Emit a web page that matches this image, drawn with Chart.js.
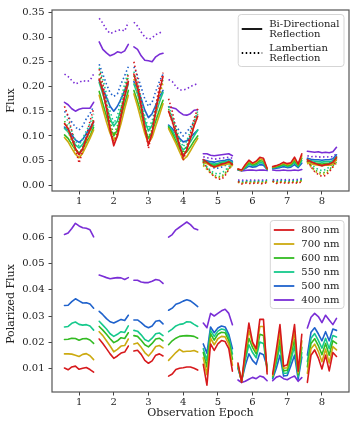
<!DOCTYPE html>
<html>
<head>
<meta charset="utf-8">
<script src="https://cdn.jsdelivr.net/npm/chart.js@4"></script>
<style>
	body { margin: 0; background: #fff; }
	#wrap { position: relative; width: 358px; height: 423px; }
	#wrap canvas { position: absolute; left: 0; }
	#fluxChart { top: 0; }
	#polChart { top: 206px; }
</style>
</head>
<body>
<div id="wrap">
	<canvas id="fluxChart" width="358" height="206"></canvas>
	<canvas id="polChart" width="358" height="217"></canvas>
</div>
<script>
const epochs = [1, 2, 3, 4, 5, 6, 7, 8];
const offsets = [-0.42, -0.315, -0.21, -0.105, 0, 0.105, 0.21, 0.315, 0.42];
const wavelengths = ['800 nm', '700 nm', '600 nm', '550 nm', '500 nm', '400 nm'];
const fluxTicks = [0, 0.05, 0.1, 0.15, 0.2, 0.25, 0.3, 0.35];
const polTicks = [0.01, 0.02, 0.03, 0.04, 0.05, 0.06];
const modelNames = [['Bi-Directional', 'Reflection'], ['Lambertian', 'Reflection']];

// bi-directional reflection (solid), one row per epoch
const bdr800 = [
	[0.125, 0.115, 0.095, 0.075, 0.062, 0.075, 0.095, 0.112, 0.130],
	[0.215, 0.190, 0.155, 0.112, 0.080, 0.100, 0.140, 0.180, 0.210],
	[0.225, 0.198, 0.160, 0.115, 0.082, 0.105, 0.150, 0.190, 0.220],
	[0.150, 0.130, 0.105, 0.080, 0.058, 0.072, 0.095, 0.120, 0.140],
	[0.052, 0.047, 0.041, 0.037, 0.040, 0.043, 0.045, 0.048, 0.043],
	[0.033, 0.031, 0.042, 0.051, 0.045, 0.049, 0.057, 0.055, 0.034],
	[0.038, 0.040, 0.043, 0.047, 0.044, 0.046, 0.057, 0.043, 0.064],
	[0.052, 0.048, 0.045, 0.042, 0.040, 0.042, 0.043, 0.047, 0.057]
];
const bdr700 = [
	[0.097, 0.088, 0.075, 0.063, 0.056, 0.065, 0.080, 0.095, 0.112],
	[0.182, 0.155, 0.128, 0.105, 0.090, 0.100, 0.125, 0.155, 0.182],
	[0.185, 0.160, 0.132, 0.105, 0.085, 0.097, 0.120, 0.142, 0.165],
	[0.115, 0.100, 0.085, 0.068, 0.052, 0.058, 0.070, 0.083, 0.095],
	[0.046, 0.044, 0.040, 0.037, 0.039, 0.041, 0.042, 0.044, 0.040],
	[0.033, 0.030, 0.040, 0.049, 0.044, 0.047, 0.054, 0.052, 0.034],
	[0.037, 0.039, 0.042, 0.045, 0.042, 0.044, 0.054, 0.042, 0.060],
	[0.047, 0.044, 0.042, 0.041, 0.040, 0.041, 0.041, 0.043, 0.052]
];
const bdr600 = [
	[0.102, 0.095, 0.083, 0.072, 0.066, 0.073, 0.088, 0.100, 0.117],
	[0.190, 0.165, 0.140, 0.115, 0.100, 0.112, 0.138, 0.165, 0.192],
	[0.192, 0.170, 0.145, 0.115, 0.095, 0.108, 0.130, 0.152, 0.172],
	[0.118, 0.105, 0.090, 0.075, 0.062, 0.068, 0.078, 0.090, 0.100],
	[0.048, 0.046, 0.042, 0.040, 0.042, 0.044, 0.045, 0.047, 0.043],
	[0.032, 0.030, 0.038, 0.046, 0.042, 0.044, 0.050, 0.049, 0.033],
	[0.036, 0.038, 0.040, 0.043, 0.040, 0.042, 0.050, 0.040, 0.055],
	[0.049, 0.047, 0.045, 0.044, 0.043, 0.044, 0.044, 0.046, 0.055]
];
const bdr550 = [
	[0.115, 0.108, 0.095, 0.082, 0.076, 0.083, 0.097, 0.110, 0.122],
	[0.208, 0.185, 0.160, 0.135, 0.120, 0.130, 0.155, 0.180, 0.205],
	[0.205, 0.185, 0.160, 0.130, 0.110, 0.122, 0.145, 0.168, 0.188],
	[0.120, 0.110, 0.097, 0.082, 0.072, 0.078, 0.088, 0.100, 0.112],
	[0.050, 0.048, 0.045, 0.043, 0.045, 0.047, 0.048, 0.050, 0.046],
	[0.032, 0.030, 0.036, 0.043, 0.040, 0.041, 0.046, 0.045, 0.033],
	[0.035, 0.037, 0.038, 0.041, 0.038, 0.040, 0.046, 0.038, 0.050],
	[0.052, 0.050, 0.049, 0.048, 0.047, 0.048, 0.048, 0.050, 0.058]
];
const bdr500 = [
	[0.118, 0.112, 0.102, 0.092, 0.087, 0.093, 0.105, 0.116, 0.128],
	[0.212, 0.195, 0.178, 0.160, 0.150, 0.160, 0.175, 0.192, 0.210],
	[0.210, 0.195, 0.175, 0.152, 0.137, 0.145, 0.162, 0.178, 0.192],
	[0.122, 0.115, 0.105, 0.095, 0.088, 0.090, 0.097, 0.105, 0.112],
	[0.052, 0.050, 0.048, 0.047, 0.049, 0.050, 0.051, 0.053, 0.049],
	[0.032, 0.030, 0.034, 0.039, 0.037, 0.038, 0.042, 0.041, 0.032],
	[0.034, 0.035, 0.036, 0.038, 0.036, 0.037, 0.042, 0.036, 0.045],
	[0.055, 0.053, 0.052, 0.052, 0.051, 0.052, 0.052, 0.054, 0.062]
];
const bdr400 = [
	[0.168, 0.163, 0.155, 0.150, 0.154, 0.156, 0.156, 0.156, 0.168],
	[0.290, 0.275, 0.268, 0.262, 0.265, 0.270, 0.268, 0.272, 0.285],
	[0.280, 0.275, 0.262, 0.253, 0.252, 0.250, 0.260, 0.265, 0.267],
	[0.159, 0.157, 0.155, 0.148, 0.143, 0.142, 0.145, 0.152, 0.153],
	[0.064, 0.064, 0.061, 0.060, 0.061, 0.062, 0.063, 0.064, 0.060],
	[0.031, 0.029, 0.030, 0.031, 0.031, 0.030, 0.031, 0.031, 0.030],
	[0.031, 0.030, 0.030, 0.031, 0.030, 0.030, 0.031, 0.030, 0.032],
	[0.069, 0.068, 0.067, 0.068, 0.066, 0.067, 0.066, 0.068, 0.077]
];

// lambertian reflection (dotted)
const lam800 = [
	[0.160, 0.140, 0.110, 0.075, 0.045, 0.070, 0.100, 0.130, 0.155],
	[0.235, 0.205, 0.165, 0.120, 0.085, 0.105, 0.150, 0.190, 0.225],
	[0.250, 0.215, 0.170, 0.120, 0.075, 0.110, 0.160, 0.200, 0.228],
	[0.175, 0.150, 0.115, 0.082, 0.050, 0.075, 0.105, 0.135, 0.155],
	[0.048, 0.035, 0.025, 0.018, 0.013, 0.012, 0.020, 0.032, 0.045],
	[0.008, 0.003, 0.005, 0.004, 0.004, 0.005, 0.004, 0.003, 0.006],
	[0.009, 0.004, 0.006, 0.005, 0.005, 0.005, 0.006, 0.004, 0.008],
	[0.050, 0.038, 0.028, 0.022, 0.018, 0.020, 0.027, 0.038, 0.050]
];
const lam700 = [
	[0.125, 0.110, 0.088, 0.068, 0.055, 0.068, 0.088, 0.105, 0.128],
	[0.215, 0.188, 0.155, 0.120, 0.092, 0.110, 0.145, 0.180, 0.212],
	[0.215, 0.188, 0.152, 0.115, 0.087, 0.105, 0.140, 0.178, 0.208],
	[0.150, 0.128, 0.102, 0.078, 0.057, 0.072, 0.095, 0.120, 0.140],
	[0.040, 0.032, 0.025, 0.018, 0.015, 0.016, 0.023, 0.033, 0.040],
	[0.006, 0.004, 0.006, 0.006, 0.005, 0.006, 0.006, 0.005, 0.007],
	[0.007, 0.005, 0.007, 0.006, 0.006, 0.006, 0.007, 0.006, 0.009],
	[0.045, 0.037, 0.029, 0.024, 0.022, 0.024, 0.029, 0.037, 0.045]
];
const lam600 = [
	[0.130, 0.118, 0.095, 0.075, 0.063, 0.078, 0.095, 0.112, 0.135],
	[0.225, 0.198, 0.165, 0.130, 0.102, 0.120, 0.155, 0.190, 0.220],
	[0.222, 0.195, 0.160, 0.122, 0.095, 0.115, 0.150, 0.185, 0.212],
	[0.155, 0.135, 0.110, 0.085, 0.065, 0.080, 0.100, 0.125, 0.145],
	[0.042, 0.035, 0.027, 0.020, 0.018, 0.018, 0.025, 0.035, 0.042],
	[0.007, 0.005, 0.007, 0.007, 0.006, 0.007, 0.007, 0.006, 0.008],
	[0.008, 0.006, 0.008, 0.007, 0.007, 0.007, 0.008, 0.007, 0.010],
	[0.047, 0.040, 0.032, 0.027, 0.025, 0.027, 0.032, 0.040, 0.047]
];
const lam550 = [
	[0.140, 0.130, 0.110, 0.090, 0.080, 0.095, 0.110, 0.125, 0.145],
	[0.238, 0.215, 0.185, 0.150, 0.125, 0.140, 0.175, 0.205, 0.230],
	[0.230, 0.205, 0.175, 0.140, 0.115, 0.130, 0.160, 0.190, 0.215],
	[0.160, 0.140, 0.118, 0.095, 0.078, 0.090, 0.110, 0.130, 0.150],
	[0.045, 0.038, 0.030, 0.025, 0.023, 0.025, 0.030, 0.038, 0.045],
	[0.008, 0.006, 0.008, 0.008, 0.007, 0.008, 0.008, 0.007, 0.009],
	[0.009, 0.007, 0.009, 0.008, 0.008, 0.008, 0.009, 0.008, 0.011],
	[0.050, 0.043, 0.037, 0.032, 0.030, 0.032, 0.037, 0.045, 0.050]
];
const lam500 = [
	[0.150, 0.140, 0.128, 0.118, 0.112, 0.120, 0.135, 0.145, 0.160],
	[0.245, 0.225, 0.205, 0.187, 0.180, 0.185, 0.205, 0.222, 0.240],
	[0.240, 0.222, 0.198, 0.175, 0.160, 0.168, 0.190, 0.210, 0.225],
	[0.150, 0.135, 0.120, 0.110, 0.100, 0.108, 0.118, 0.130, 0.145],
	[0.050, 0.045, 0.040, 0.035, 0.035, 0.037, 0.040, 0.045, 0.048],
	[0.009, 0.008, 0.009, 0.009, 0.008, 0.009, 0.009, 0.009, 0.010],
	[0.010, 0.009, 0.010, 0.010, 0.009, 0.010, 0.010, 0.010, 0.012],
	[0.055, 0.050, 0.045, 0.042, 0.040, 0.042, 0.045, 0.050, 0.055]
];
const lam400 = [
	[0.225, 0.220, 0.212, 0.205, 0.208, 0.212, 0.210, 0.212, 0.225],
	[0.338, 0.328, 0.315, 0.307, 0.310, 0.313, 0.315, 0.312, 0.330],
	[0.330, 0.322, 0.310, 0.300, 0.295, 0.298, 0.305, 0.308, 0.312],
	[0.214, 0.210, 0.200, 0.193, 0.193, 0.195, 0.200, 0.203, 0.206],
	[0.058, 0.056, 0.055, 0.053, 0.054, 0.055, 0.056, 0.057, 0.055],
	[0.011, 0.011, 0.010, 0.011, 0.011, 0.010, 0.011, 0.011, 0.011],
	[0.012, 0.011, 0.012, 0.011, 0.012, 0.011, 0.012, 0.012, 0.014],
	[0.060, 0.058, 0.059, 0.057, 0.058, 0.057, 0.058, 0.058, 0.064]
];

// polarized flux
const pol800 = [
	[0.0101, 0.0094, 0.0105, 0.0108, 0.0096, 0.0100, 0.0103, 0.0095, 0.0085],
	[0.0212, 0.0195, 0.0175, 0.0155, 0.0138, 0.0147, 0.0158, 0.0162, 0.0185],
	[0.0166, 0.0169, 0.0153, 0.0130, 0.0119, 0.0128, 0.0150, 0.0155, 0.0147],
	[0.0070, 0.0078, 0.0095, 0.0100, 0.0102, 0.0105, 0.0105, 0.0100, 0.0093],
	[0.0115, 0.0035, 0.0193, 0.0168, 0.0193, 0.0206, 0.0202, 0.0175, 0.0089],
	[0.0120, 0.0046, 0.0170, 0.0273, 0.0200, 0.0175, 0.0287, 0.0287, 0.0078],
	[0.0077, 0.0170, 0.0267, 0.0108, 0.0113, 0.0180, 0.0267, 0.0089, 0.0230],
	[0.0046, 0.0150, 0.0170, 0.0140, 0.0097, 0.0150, 0.0090, 0.0160, 0.0145]
];
const pol700 = [
	[0.0155, 0.0155, 0.0154, 0.0150, 0.0145, 0.0153, 0.0156, 0.0148, 0.0133],
	[0.0240, 0.0225, 0.0205, 0.0185, 0.0163, 0.0172, 0.0185, 0.0187, 0.0212],
	[0.0193, 0.0197, 0.0180, 0.0160, 0.0147, 0.0163, 0.0183, 0.0187, 0.0178],
	[0.0130, 0.0145, 0.0160, 0.0172, 0.0163, 0.0165, 0.0165, 0.0168, 0.0162],
	[0.0140, 0.0075, 0.0215, 0.0190, 0.0213, 0.0222, 0.0220, 0.0192, 0.0112],
	[0.0115, 0.0047, 0.0158, 0.0245, 0.0195, 0.0165, 0.0260, 0.0260, 0.0088],
	[0.0072, 0.0150, 0.0240, 0.0100, 0.0102, 0.0165, 0.0240, 0.0082, 0.0205],
	[0.0080, 0.0175, 0.0192, 0.0165, 0.0125, 0.0173, 0.0120, 0.0183, 0.0170]
];
const pol600 = [
	[0.0210, 0.0211, 0.0215, 0.0214, 0.0207, 0.0213, 0.0214, 0.0208, 0.0195],
	[0.0260, 0.0246, 0.0230, 0.0213, 0.0198, 0.0205, 0.0217, 0.0214, 0.0236],
	[0.0225, 0.0222, 0.0207, 0.0190, 0.0182, 0.0195, 0.0212, 0.0215, 0.0205],
	[0.0190, 0.0205, 0.0215, 0.0222, 0.0224, 0.0225, 0.0224, 0.0222, 0.0215],
	[0.0160, 0.0105, 0.0232, 0.0208, 0.0230, 0.0238, 0.0236, 0.0206, 0.0135],
	[0.0110, 0.0049, 0.0145, 0.0215, 0.0180, 0.0155, 0.0230, 0.0225, 0.0095],
	[0.0068, 0.0135, 0.0210, 0.0090, 0.0092, 0.0150, 0.0210, 0.0075, 0.0180],
	[0.0105, 0.0195, 0.0213, 0.0187, 0.0152, 0.0195, 0.0150, 0.0205, 0.0195]
];
const pol550 = [
	[0.0258, 0.0260, 0.0272, 0.0277, 0.0268, 0.0265, 0.0267, 0.0262, 0.0246],
	[0.0280, 0.0265, 0.0250, 0.0232, 0.0222, 0.0230, 0.0240, 0.0237, 0.0262],
	[0.0245, 0.0242, 0.0228, 0.0210, 0.0203, 0.0215, 0.0232, 0.0235, 0.0225],
	[0.0240, 0.0250, 0.0262, 0.0268, 0.0270, 0.0278, 0.0277, 0.0268, 0.0260],
	[0.0175, 0.0130, 0.0245, 0.0222, 0.0242, 0.0250, 0.0247, 0.0218, 0.0155],
	[0.0105, 0.0050, 0.0130, 0.0190, 0.0160, 0.0140, 0.0200, 0.0195, 0.0100],
	[0.0065, 0.0120, 0.0185, 0.0080, 0.0082, 0.0130, 0.0185, 0.0068, 0.0160],
	[0.0125, 0.0215, 0.0233, 0.0207, 0.0177, 0.0215, 0.0175, 0.0225, 0.0220]
];
const pol500 = [
	[0.0340, 0.0341, 0.0355, 0.0366, 0.0358, 0.0350, 0.0351, 0.0346, 0.0330],
	[0.0318, 0.0305, 0.0290, 0.0278, 0.0273, 0.0280, 0.0287, 0.0283, 0.0303],
	[0.0285, 0.0285, 0.0275, 0.0262, 0.0255, 0.0262, 0.0280, 0.0283, 0.0270],
	[0.0322, 0.0330, 0.0345, 0.0350, 0.0357, 0.0362, 0.0358, 0.0347, 0.0336],
	[0.0193, 0.0158, 0.0258, 0.0236, 0.0254, 0.0262, 0.0258, 0.0230, 0.0175],
	[0.0100, 0.0052, 0.0110, 0.0155, 0.0130, 0.0115, 0.0158, 0.0152, 0.0107],
	[0.0060, 0.0100, 0.0150, 0.0070, 0.0072, 0.0110, 0.0150, 0.0058, 0.0143],
	[0.0150, 0.0238, 0.0255, 0.0232, 0.0205, 0.0240, 0.0205, 0.0250, 0.0245]
];
const pol400 = [
	[0.0612, 0.0618, 0.0635, 0.0655, 0.0645, 0.0638, 0.0636, 0.0630, 0.0603],
	[0.0457, 0.0452, 0.0447, 0.0443, 0.0445, 0.0447, 0.0446, 0.0440, 0.0447],
	[0.0437, 0.0437, 0.0430, 0.0428, 0.0428, 0.0433, 0.0440, 0.0437, 0.0425],
	[0.0602, 0.0612, 0.0630, 0.0640, 0.0650, 0.0660, 0.0650, 0.0635, 0.0630],
	[0.0273, 0.0255, 0.0310, 0.0300, 0.0310, 0.0320, 0.0326, 0.0310, 0.0267],
	[0.0055, 0.0045, 0.0050, 0.0058, 0.0065, 0.0060, 0.0070, 0.0066, 0.0052],
	[0.0052, 0.0066, 0.0070, 0.0060, 0.0056, 0.0064, 0.0070, 0.0050, 0.0064],
	[0.0254, 0.0295, 0.0310, 0.0298, 0.0275, 0.0303, 0.0285, 0.0267, 0.0291]
];

const bdrSeries = [bdr800, bdr700, bdr600, bdr550, bdr500, bdr400];
const lamSeries = [lam800, lam700, lam600, lam550, lam500, lam400];
const polSeries = [pol800, pol700, pol600, pol550, pol500, pol400];
const lineColors = ['#d7191c', '#ccaa10', '#33bb22', '#16c98c', '#1f62cc', '#7a2ed6'];

const FONT = "'DejaVu Serif', serif";
const dotted = [1.5, 2.5];

// each epoch becomes its own segment, a null point breaks the line
const toPoints = series => {
	const pts = [];
	series.forEach((vals, e) => {
		vals.forEach((v, i) => pts.push({ x: epochs[e] + offsets[i], y: v }));
		pts.push({ x: epochs[e] + 0.5, y: null });
	});
	return pts;
};

const lineSet = (series, color, dash) => ({
	data: toPoints(series),
	borderColor: color,
	borderWidth: 1.6,
	borderDash: dash || [],
	borderCapStyle: dash ? 'butt' : 'round',
	borderJoinStyle: 'round',
	pointRadius: 0,
	fill: false,
	tension: 0
});

// axes frame drawn on all four sides
const framePlugin = {
	id: 'frame',
	afterDatasetsDraw(chart) {
		const { ctx, chartArea: a } = chart;
		ctx.save();
		ctx.strokeStyle = '#555';
		ctx.lineWidth = 1.2;
		ctx.strokeRect(a.left, a.top, a.right - a.left, a.bottom - a.top);
		ctx.restore();
	}
};

// legend box inside the top right corner of the plot
const boxLegendPlugin = {
	id: 'boxLegend',
	afterDraw(chart, args, opts) {
		const items = opts.items || [];
		if (!items.length) return;
		const { ctx, chartArea: a } = chart;
		const lineH = 10, gap = 4, pad = 3.5, sample = 20.5, textGap = 7;
		ctx.save();
		ctx.font = '10px ' + FONT;
		let textW = 0, totalH = 0;
		items.forEach((it, i) => {
			it.lines.forEach(t => { textW = Math.max(textW, ctx.measureText(t).width); });
			totalH += it.lines.length * lineH + (i ? gap : 0);
		});
		const w = pad + sample + textGap + textW + pad + 1;
		const h = totalH + pad * 2 + 1;
		const x0 = a.right - 5 - w;
		const y0 = a.top + 4.5;
		ctx.beginPath();
		ctx.roundRect(x0, y0, w, h, 3);
		ctx.fillStyle = 'rgba(255,255,255,0.85)';
		ctx.fill();
		ctx.strokeStyle = '#d5d5d5';
		ctx.lineWidth = 1;
		ctx.stroke();
		let y = y0 + pad + 1;
		items.forEach(it => {
			const ih = it.lines.length * lineH;
			const cy = y + ih / 2;
			ctx.beginPath();
			ctx.setLineDash(it.dash || []);
			ctx.strokeStyle = it.color;
			ctx.lineWidth = 1.8;
			ctx.moveTo(x0 + pad, cy);
			ctx.lineTo(x0 + pad + sample, cy);
			ctx.stroke();
			ctx.setLineDash([]);
			ctx.fillStyle = '#222';
			ctx.textBaseline = 'middle';
			ctx.textAlign = 'left';
			it.lines.forEach((t, k) => ctx.fillText(t, x0 + pad + sample + textGap, y + lineH * k + lineH / 2));
			y += ih + gap;
		});
		ctx.restore();
	}
};

const makeScales = (yMin, yMax, yTicks, yTitle, xTitle, xHeight) => ({
	x: {
		type: 'linear',
		min: 0.22,
		max: 8.78,
		afterBuildTicks: s => { s.ticks = epochs.map(v => ({ value: v })); },
		afterFit: s => { s.height = xHeight; },
		ticks: { callback: v => String(v), color: '#222', font: { family: FONT, size: 10 }, padding: 1, maxRotation: 0, autoSkip: false },
		grid: { drawOnChartArea: false, drawTicks: true, tickLength: 3.5, tickColor: '#444', tickWidth: 1 },
		border: { display: false },
		title: xTitle ? { display: true, text: xTitle, color: '#222', font: { family: FONT, size: 11 }, padding: { top: 0, bottom: 3.5 } } : { display: false }
	},
	y: {
		min: yMin,
		max: yMax,
		afterBuildTicks: s => { s.ticks = yTicks.map(v => ({ value: v })); },
		afterFit: s => { s.width = 52; },
		ticks: { callback: v => v.toFixed(2), color: '#222', font: { family: FONT, size: 10 }, padding: 4 },
		grid: { drawOnChartArea: false, drawTicks: true, tickLength: 3.5, tickColor: '#444', tickWidth: 1 },
		border: { display: false },
		title: { display: true, text: yTitle, color: '#222', font: { family: FONT, size: 11 }, padding: { top: 5, bottom: 0 } }
	}
});

const fluxSets = [];
wavelengths.forEach((w, i) => {
	fluxSets.push(lineSet(bdrSeries[i], lineColors[i]));
	fluxSets.push(lineSet(lamSeries[i], lineColors[i], dotted));
});

new Chart(document.getElementById('fluxChart'), {
	type: 'line',
	data: { datasets: fluxSets },
	options: {
		responsive: false,
		animation: false,
		devicePixelRatio: 1,
		layout: { padding: { top: 7, right: 9, left: 0, bottom: 0 } },
		scales: makeScales(-0.0113, 0.3546, fluxTicks, 'Flux', null, 15),
		plugins: {
			legend: { display: false },
			tooltip: { enabled: false },
			boxLegend: {
				items: [
					{ lines: modelNames[0], color: '#000' },
					{ lines: modelNames[1], color: '#000', dash: dotted }
				]
			}
		}
	},
	plugins: [framePlugin, boxLegendPlugin]
});

new Chart(document.getElementById('polChart'), {
	type: 'line',
	data: { datasets: polSeries.map((s, i) => lineSet(s, lineColors[i])) },
	options: {
		responsive: false,
		animation: false,
		devicePixelRatio: 1,
		layout: { padding: { top: 2, right: 9, left: 0, bottom: 0 } },
		scales: makeScales(0.0009, 0.0683, polTicks, 'Polarized Flux', 'Observation Epoch', 31),
		plugins: {
			legend: { display: false },
			tooltip: { enabled: false },
			boxLegend: {
				items: wavelengths.map((w, i) => ({ lines: [w], color: lineColors[i] }))
			}
		}
	},
	plugins: [framePlugin, boxLegendPlugin]
});
</script>
</body>
</html>
